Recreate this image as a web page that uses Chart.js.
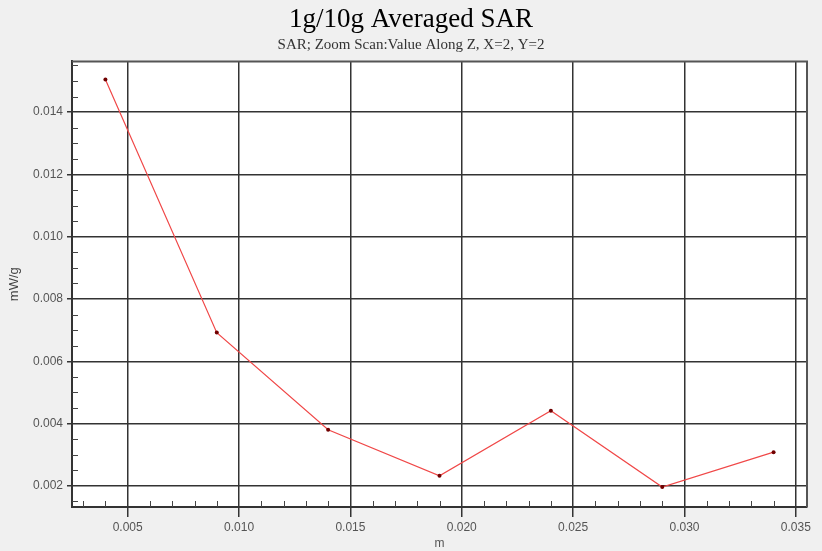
<!DOCTYPE html>
<html>
<head>
<meta charset="utf-8">
<script src="https://cdn.jsdelivr.net/npm/chart.js@4/dist/chart.umd.min.js"></script>
<style>
  html, body { margin: 0; padding: 0; background: #f0f0f0; }
  #wrap { width: 822px; height: 551px; }
</style>
</head>
<body>
<div id="wrap"><canvas id="c" width="822" height="551"></canvas></div>
<script>
// Data
const xValues = [0.004, 0.009, 0.014, 0.019, 0.024, 0.029, 0.034];
const sarValues = [0.01505, 0.00692, 0.00380, 0.00232, 0.00441, 0.00196, 0.00308];
const xTickValues = [0.005, 0.010, 0.015, 0.020, 0.025, 0.030, 0.035];
const yTickValues = [0.002, 0.004, 0.006, 0.008, 0.010, 0.012, 0.014];
const xMinorValues = [0.003, 0.004, 0.006, 0.007, 0.008, 0.009, 0.011, 0.012, 0.013, 0.014,
  0.016, 0.017, 0.018, 0.019, 0.021, 0.022, 0.023, 0.024, 0.026, 0.027, 0.028, 0.029,
  0.031, 0.032, 0.033, 0.034];
const yMinorValues = [0.0015, 0.0025, 0.003, 0.0035, 0.0045, 0.005, 0.0055, 0.0065, 0.007, 0.0075,
  0.0085, 0.009, 0.0095, 0.0105, 0.011, 0.0115, 0.0125, 0.013, 0.0135, 0.0145, 0.015, 0.0155];

const points = xValues.map((x, i) => ({ x: x, y: sarValues[i] }));

const frame = {
  id: 'frame',
  beforeDraw(chart) {
    const { ctx, chartArea: a } = chart;
    ctx.save();
    ctx.fillStyle = '#ffffff';
    ctx.fillRect(a.left, a.top, a.right - a.left, a.bottom - a.top);
    ctx.restore();
  },
  beforeDatasetsDraw(chart) {
    const { ctx, chartArea: a, scales } = chart;
    ctx.save();
    ctx.strokeStyle = '#444';
    ctx.lineWidth = 1;
    ctx.beginPath();
    xMinorValues.forEach(v => {
      const p = Math.round(scales.x.getPixelForValue(v)) + 0.5;
      ctx.moveTo(p, a.bottom);
      ctx.lineTo(p, a.bottom - 6);
    });
    yMinorValues.forEach(v => {
      const p = Math.round(scales.y.getPixelForValue(v)) + 0.5;
      ctx.moveTo(a.left, p);
      ctx.lineTo(a.left + 6, p);
    });
    ctx.stroke();
    ctx.lineWidth = 2;
    ctx.strokeStyle = '#555';
    ctx.beginPath();
    ctx.moveTo(a.left, a.top);
    ctx.lineTo(a.right, a.top);
    ctx.lineTo(a.right, a.bottom);
    ctx.stroke();
    ctx.restore();
  }
};

new Chart(document.getElementById('c'), {
  type: 'line',
  data: {
    datasets: [{
      data: points,
      borderColor: '#f04848',
      borderWidth: 1.2,
      pointRadius: 2,
      pointBackgroundColor: '#700000',
      pointBorderColor: '#700000',
      pointBorderWidth: 0,
      tension: 0,
      fill: false
    }]
  },
  options: {
    responsive: false,
    animation: false,
    devicePixelRatio: 1,
    layout: { padding: { left: 0, right: 0, top: 0, bottom: 0 } },
    plugins: {
      legend: { display: false },
      tooltip: { enabled: false },
      title: {
        display: true,
        text: '1g/10g Averaged SAR',
        color: '#000',
        font: { family: '"Liberation Serif", "Times New Roman", serif', size: 27, weight: 'normal' },
        padding: { top: 4, bottom: 0 }
      },
      subtitle: {
        display: true,
        text: 'SAR; Zoom Scan:Value Along Z, X=2, Y=2',
        color: '#333',
        font: { family: '"Liberation Serif", "Times New Roman", serif', size: 15, weight: 'normal' },
        padding: { top: 0, bottom: 7 }
      }
    },
    scales: {
      x: {
        type: 'linear',
        min: 0.0025,
        max: 0.0355,
        afterBuildTicks(scale) { scale.ticks = xTickValues.map(v => ({ value: v })); },
        afterFit(scale) { scale.height = 44; scale.paddingRight = 15; },
        ticks: {
          color: '#555',
          font: { family: '"Liberation Sans", Arial, sans-serif', size: 12 },
          padding: 3,
          maxRotation: 0,
          callback: v => v.toFixed(3)
        },
        grid: { color: '#333', lineWidth: 1.5, tickLength: 10, drawTicks: true },
        border: { display: true, color: '#333', width: 2 },
        title: {
          display: true,
          text: 'm',
          color: '#555',
          font: { family: '"Liberation Sans", Arial, sans-serif', size: 12 },
          padding: { top: 5, bottom: 0 }
        }
      },
      y: {
        type: 'linear',
        min: 0.00132,
        max: 0.01563,
        afterBuildTicks(scale) { scale.ticks = yTickValues.map(v => ({ value: v })); },
        afterFit(scale) { scale.width = 72; },
        ticks: {
          color: '#555',
          font: { family: '"Liberation Sans", Arial, sans-serif', size: 12 },
          padding: 4,
          callback: v => v.toFixed(3)
        },
        grid: { color: '#333', lineWidth: 1.5, tickLength: 5, drawTicks: true },
        border: { display: true, color: '#333', width: 2 },
        title: {
          display: true,
          text: 'mW/g',
          color: '#444',
          font: { family: '"Liberation Sans", Arial, sans-serif', size: 13 },
          padding: { top: 7, bottom: 0 }
        }
      }
    }
  },
  plugins: [frame]
});
</script>
</body>
</html>
